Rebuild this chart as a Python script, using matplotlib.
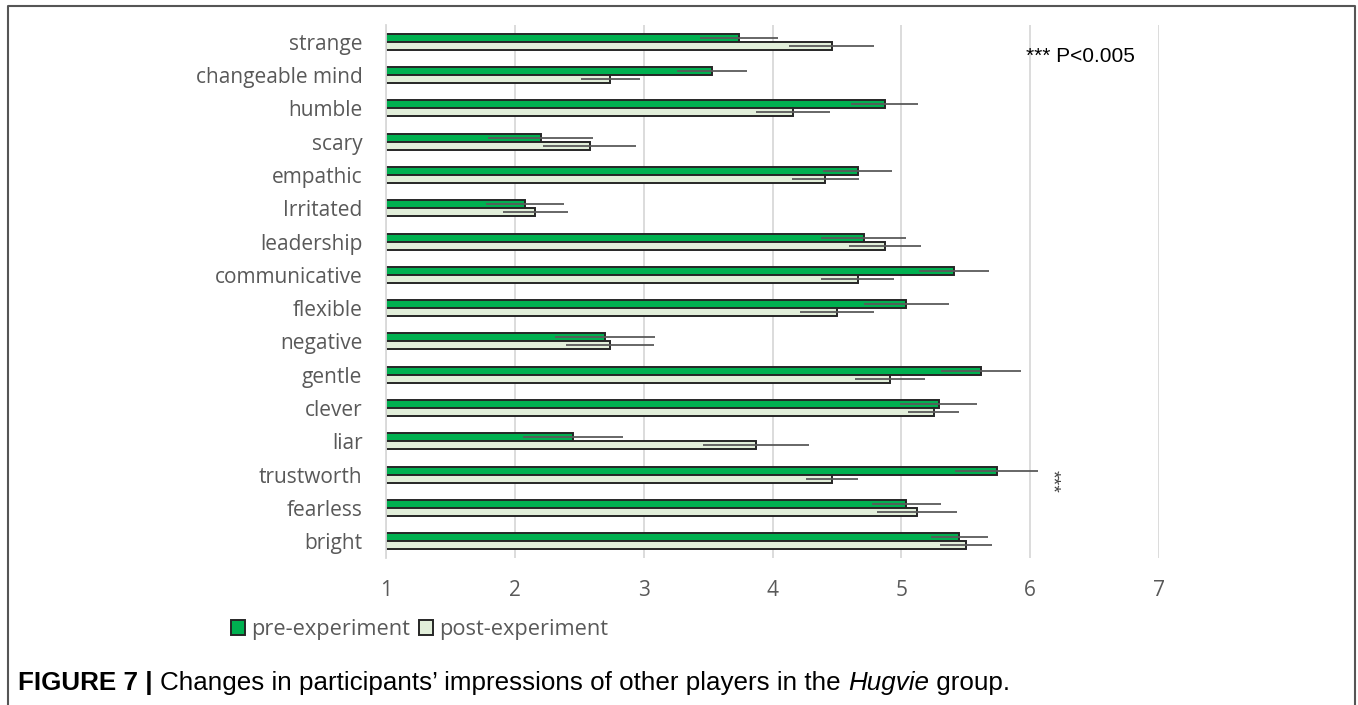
import numpy as np
import matplotlib
matplotlib.use('Agg')
import matplotlib.pyplot as plt
from matplotlib.patches import Patch
from matplotlib.lines import Line2D

# traits, top to bottom as shown in the chart
traits = ['strange', 'changeable mind', 'humble', 'scary', 'empathic', 'Irritated',
          'leadership', 'communicative', 'flexible', 'negative', 'gentle', 'clever',
          'liar', 'trustworth', 'fearless', 'bright']

pre_mean = [3.74, 3.53, 4.87, 2.20, 4.66, 2.08, 4.71, 5.41, 5.04, 2.70, 5.62, 5.29,
            2.45, 5.74, 5.04, 5.45]
pre_err = [0.30, 0.27, 0.26, 0.41, 0.27, 0.30, 0.33, 0.27, 0.33, 0.39, 0.31, 0.30,
           0.39, 0.32, 0.27, 0.22]

post_mean = [4.46, 2.74, 4.16, 2.58, 4.41, 2.16, 4.87, 4.66, 4.50, 2.74, 4.91, 5.25,
             3.87, 4.46, 5.12, 5.50]
post_err = [0.33, 0.23, 0.29, 0.36, 0.26, 0.25, 0.28, 0.28, 0.29, 0.34, 0.27, 0.20,
            0.41, 0.20, 0.31, 0.20]

series_names = ['pre-experiment', 'post-experiment']
sig_trait = 'trustworth'
sig_note = '*** P<0.005'
caption_bold = 'FIGURE 7 | '
caption_a = 'Changes in participants\u2019 impressions of other players in the '
caption_it = 'Hugvie'
caption_b = ' group.'

PRE_C = '#00B050'
POST_C = '#E2EFDA'
EDGE = '#262626'
TXT = '#595959'
GRID = '#D9D9D9'
LABEL_FS = 15
CAP_FS = 18.7

fig = plt.figure(figsize=(13.58, 7.05), dpi=100)
ax = fig.add_axes([386 / 1358, 1 - 558 / 705, (1159 - 386) / 1358, (558 - 25) / 705])

n = len(traits)
y = np.arange(n)[::-1].astype(float)
h = 0.24

lo = 1
ax.barh(y + h / 2, np.array(pre_mean) - lo, left=lo, height=h, color=PRE_C,
        edgecolor=EDGE, linewidth=1.4, zorder=2, label=series_names[0])
ax.barh(y - h / 2, np.array(post_mean) - lo, left=lo, height=h, color=POST_C,
        edgecolor=EDGE, linewidth=1.4, zorder=2, label=series_names[1])
ax.errorbar(pre_mean, y + h / 2, xerr=pre_err, fmt='none', ecolor='#5a5a5a',
            elinewidth=1.3, capsize=0, zorder=3)
ax.errorbar(post_mean, y - h / 2, xerr=post_err, fmt='none', ecolor='#5a5a5a',
            elinewidth=1.3, capsize=0, zorder=3)

ax.set_xlim(1, 7)
ax.set_ylim(-0.5, n - 0.5)
ax.set_xticks(range(1, 8))
ax.set_yticks(y)
ax.set_yticklabels(traits)
ax.xaxis.grid(True, color=GRID, linewidth=1.3, zorder=0)
ax.set_axisbelow(True)
for s in ['top', 'right', 'bottom']:
    ax.spines[s].set_visible(False)
ax.spines['left'].set_color(GRID)
ax.spines['left'].set_linewidth(1.3)
ax.tick_params(axis='both', length=0, colors=TXT, labelsize=LABEL_FS)
ax.tick_params(axis='y', pad=17)
ax.tick_params(axis='x', pad=16)
for lab in ax.get_xticklabels() + ax.get_yticklabels():
    lab.set_fontfamily('Open Sans')

# significance annotations
ax.text(5.97, n - 1 - 0.45, sig_note, fontsize=15, family='Liberation Sans',
        va='center', ha='left', color='black')
sig_y = y[traits.index(sig_trait)]
ax.text(6.17, sig_y - 0.2, '***', fontsize=14, family='Liberation Sans',
        rotation=270, va='center', ha='center', color='#404040')

handles = [Patch(facecolor=PRE_C, edgecolor=EDGE, linewidth=1.4),
           Patch(facecolor=POST_C, edgecolor=EDGE, linewidth=1.4)]
leg = fig.legend(handles, series_names, loc='center left',
                 bbox_to_anchor=(211 / 1358, 1 - 630 / 705), ncol=2, frameon=False,
                 handlelength=0.66, handleheight=0.66, handletextpad=0.28,
                 columnspacing=0.4, prop={'family': 'Open Sans', 'size': 15.7})
for t in leg.get_texts():
    t.set_color(TXT)

# frame around the figure panel
fx0, fx1, fy = 8 / 1358, 1355 / 1358, 1 - 6 / 705
fig.add_artist(Line2D([fx0, fx0, fx1, fx1], [-0.01, fy, fy, -0.01],
                      transform=fig.transFigure, color='#555555', linewidth=1.5))

# caption, assembled from bold / regular / italic pieces
t0 = fig.text(18 / 1358, 1 - 683 / 705, caption_bold, fontsize=CAP_FS, weight='bold',
              family='Liberation Sans', va='center', ha='left')
a1 = fig.add_artist(plt.Annotation(caption_a, xy=(1, 0), xycoords=t0, va='bottom',
                                   ha='left', fontsize=CAP_FS, family='Liberation Sans'))
a2 = fig.add_artist(plt.Annotation(caption_it, xy=(1, 0), xycoords=a1, va='bottom',
                                   ha='left', fontsize=CAP_FS, style='italic',
                                   family='Liberation Sans'))
fig.add_artist(plt.Annotation(caption_b, xy=(1, 0), xycoords=a2, va='bottom',
                              ha='left', fontsize=CAP_FS, family='Liberation Sans'))

fig.savefig('out.png', dpi=100)
